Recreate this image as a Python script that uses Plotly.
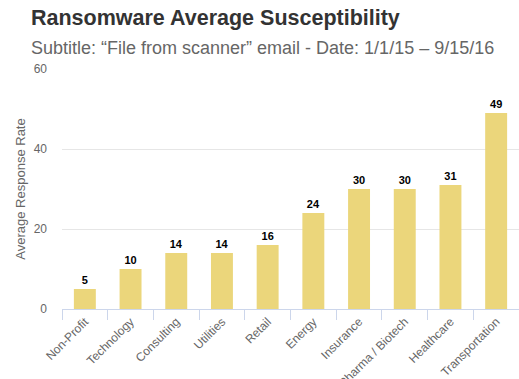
import plotly.graph_objects as go

categories = ["Non-Profit", "Technology", "Consulting", "Utilities", "Retail", "Energy",
              "Insurance", "Pharma / Biotech", "Healthcare", "Transportation"]
values = [5, 10, 14, 14, 16, 24, 30, 30, 31, 49]
y_ticks = [0, 20, 40, 60]

FONT = "Liberation Sans, Arial"

fig = go.Figure(go.Bar(
    x=categories, y=values, width=0.48,
    marker=dict(color="#ebd67b", line=dict(width=0)),
    text=[f"<b>{v}</b>" for v in values], textposition="outside",
    textfont=dict(family=FONT, size=11, color="#000000"),
    cliponaxis=False,
))

fig.update_layout(
    width=519, height=379,
    margin=dict(l=62, r=0, t=69, b=70, autoexpand=False),
    plot_bgcolor="white", paper_bgcolor="white",
    showlegend=False,
    font=dict(family=FONT, color="#666666"),
)
fig.add_annotation(text="<b>Ransomware Average Susceptibility</b>", xref="paper", yref="paper",
                   x=-33/457, y=1, yshift=51, xanchor="left", yanchor="middle",
                   showarrow=False, font=dict(size=21.5, color="#333333", family=FONT))
fig.add_annotation(text="Subtitle: \u201cFile from scanner\u201d email - Date: 1/1/15 \u2013 9/15/16",
                   xref="paper", yref="paper",
                   x=-33/457, y=1, yshift=21, xanchor="left", yanchor="middle",
                   showarrow=False, font=dict(size=18, color="#666666", family=FONT))

fig.update_yaxes(range=[0, 60], tickvals=y_ticks, showgrid=True, gridcolor="#e6e6e6",
                 zeroline=False, showline=False, ticks="", ticklabelstandoff=14,
                 automargin=False,
                 tickfont=dict(size=12, color="#666666"),
                 title=dict(text="Average Response Rate", font=dict(size=13, color="#666666"), standoff=5))
fig.update_xaxes(showline=True, linecolor="#ccd6eb", linewidth=1, ticks="outside",
                 tickson="boundaries", ticklen=10, tickcolor="#ccd6eb", tickangle=-45,
                 automargin=False,
                 tickfont=dict(size=12, color="#666666"), showgrid=False)

fig.write_html("out.html", config={"displayModeBar": False},
               post_script="document.body.style.margin='0';document.body.style.overflow='hidden';")
